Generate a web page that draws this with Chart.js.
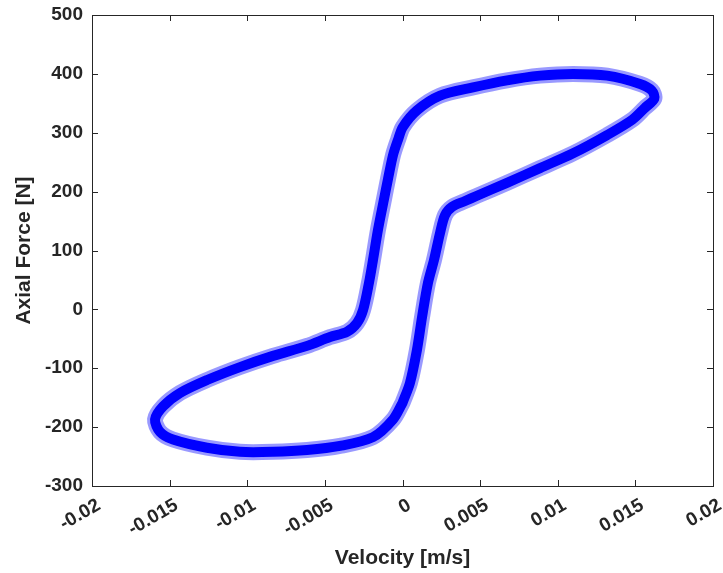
<!DOCTYPE html>
<html>
<head>
<meta charset="utf-8">
<script src="https://cdn.jsdelivr.net/npm/chart.js@4.4.1/dist/chart.umd.min.js"></script>
<style>
  html, body { margin: 0; padding: 0; background: #fff; }
  #wrap { width: 723px; height: 573px; }
</style>
</head>
<body>
<div id="wrap"><canvas id="loopChart" width="723" height="573"></canvas></div>
<script>
// hysteresis loop (centre of the noisy band)
const velocity = [
  0.0, 0.00048, 0.00093, 0.00126, 0.00164, 0.00203, 0.00242, 0.00274, 0.00319, 0.00403, 0.0048,
  0.00673, 0.00886, 0.01099, 0.01318, 0.0148, 0.0156, 0.01622,
  0.01605, 0.0153, 0.01318, 0.01099, 0.00886, 0.00673, 0.00454, 0.00242, 0.00093,
  0.00003, -0.00029, -0.00061, -0.00093, -0.0012, -0.00158, -0.0019, -0.00216, -0.00254,
  -0.00293, -0.00357, -0.00467, -0.00615, -0.00834, -0.01047, -0.01259, -0.01433, -0.01543, -0.01594,
  -0.01562, -0.01478, -0.01259, -0.01047, -0.00834, -0.00615, -0.00403, -0.00190, -0.00061, 0.0
];
const force = [
  -159, -125, -69, -13, 45, 84, 130, 160, 174, 184, 193,
  215, 240, 265, 296, 322, 342, 358,
  372, 383, 397, 400, 397, 389, 377, 363, 338,
  310, 288, 262, 222, 186, 135, 84, 45, -1,
  -23, -38, -47, -62, -79, -98, -120, -142, -165, -187,
  -208, -221, -235, -242, -242, -239, -232, -217, -187, -159
];

const xTickLabels = ["-0.02", "-0.015", "-0.01", "-0.005", "0", "0.005", "0.01", "0.015", "0.02"];
const yTickLabels = ["-300", "-200", "-100", "0", "100", "200", "300", "400", "500"];

const points = velocity.map((v, i) => ({ x: v, y: force[i] }));

// box round the plot plus inward ticks on all four sides
const matlabBox = {
  id: "matlabBox",
  afterDraw(chart) {
    const { ctx, chartArea: a, scales } = chart;
    ctx.save();
    ctx.strokeStyle = "#262626";
    ctx.lineWidth = 1;
    ctx.strokeRect(a.left + 0.5, a.top + 0.5, a.width, a.height);
    ctx.beginPath();
    scales.x.ticks.forEach((t, i) => {
      const px = Math.round(scales.x.getPixelForTick(i)) + 0.5;
      ctx.moveTo(px, a.bottom); ctx.lineTo(px, a.bottom - 6);
      ctx.moveTo(px, a.top); ctx.lineTo(px, a.top + 6);
    });
    scales.y.ticks.forEach((t, i) => {
      const py = Math.round(scales.y.getPixelForTick(i)) + 0.5;
      ctx.moveTo(a.left, py); ctx.lineTo(a.left + 6, py);
      ctx.moveTo(a.right, py); ctx.lineTo(a.right - 6, py);
    });
    ctx.stroke();
    ctx.restore();
  }
};

const tickFont = { family: "'Liberation Sans', Arial, sans-serif", size: 19, weight: "bold" };
const titleFont = { family: "'Liberation Sans', Arial, sans-serif", size: 21, weight: "bold" };

new Chart(document.getElementById("loopChart"), {
  type: "scatter",
  data: {
    datasets: [
      {
        data: points,
        showLine: true,
        borderColor: "rgba(0, 0, 255, 0.4)",
        borderWidth: 16,
        borderCapStyle: "round",
        pointRadius: 0,
        tension: 0.3,
      },
      {
        data: points,
        showLine: true,
        borderColor: "#0000ff",
        borderWidth: 10,
        borderCapStyle: "round",
        pointRadius: 0,
        tension: 0.3,
      },
    ],
  },
  options: {
    responsive: false,
    animation: false,
    layout: { padding: { top: 15, right: 10, left: 0, bottom: 0 } },
    plugins: { legend: { display: false }, tooltip: { enabled: false } },
    scales: {
      x: {
        type: "linear",
        min: -0.02,
        max: 0.02,
        afterFit: (s) => { s.height = 87; s.paddingLeft = 0; s.paddingRight = 0; },
        grid: { display: false, tickLength: 8 },
        border: { display: false },
        ticks: {
          stepSize: 0.005,
          autoSkip: false,
          minRotation: 30,
          maxRotation: 30,
          padding: 0,
          labelOffset: 7,
          color: "#262626",
          font: tickFont,
          callback: (v, i) => xTickLabels[i],
        },
        title: {
          display: true,
          text: "Velocity [m/s]",
          color: "#262626",
          font: titleFont,
          padding: { top: 4, bottom: 2 },
        },
      },
      y: {
        type: "linear",
        min: -300,
        max: 500,
        afterFit: (s) => { s.width = 92; s.paddingTop = 0; s.paddingBottom = 0; },
        grid: { display: false, tickLength: 8 },
        border: { display: false },
        ticks: {
          stepSize: 100,
          autoSkip: false,
          padding: 1,
          color: "#262626",
          font: tickFont,
          callback: (v, i) => yTickLabels[i],
        },
        title: {
          display: true,
          text: "Axial Force [N]",
          color: "#262626",
          font: titleFont,
          padding: { top: 12, bottom: 4 },
        },
      },
    },
  },
  plugins: [matlabBox],
});
</script>
</body>
</html>
